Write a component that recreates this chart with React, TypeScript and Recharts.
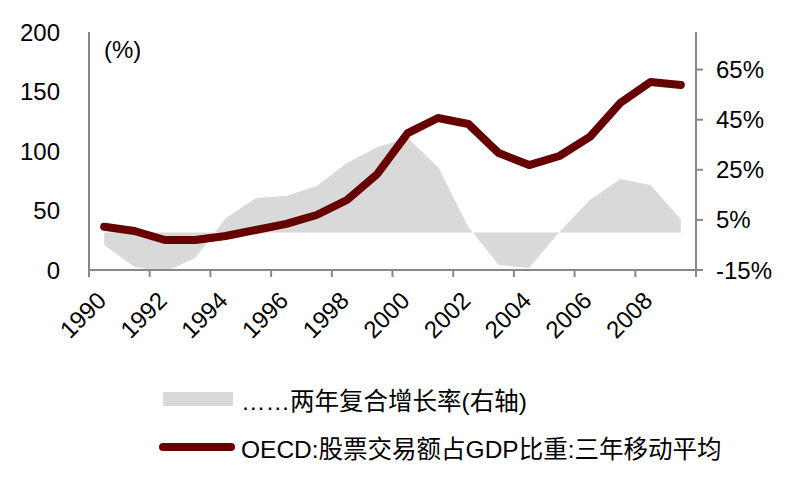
import { ComposedChart, Area, Line, XAxis, YAxis, Legend } from 'recharts';

const years = [1990, 1991, 1992, 1993, 1994, 1995, 1996, 1997, 1998, 1999, 2000, 2001, 2002, 2003, 2004, 2005, 2006, 2007, 2008, 2009];
// OECD 股票交易额占GDP比重, 三年移动平均 (左轴, %)
const turnoverRatio = [36.4, 32.8, 25.2, 25.2, 28.6, 33.6, 38.7, 46.2, 58.8, 80.7, 115, 127.7, 122.7, 98.3, 88.2, 95.8, 111.8, 140.3, 158, 155.5];
// 两年复合增长率 (右轴, %)
const growthRate = [-5.0, -13.8, -15.8, -10.2, 5.7, 13.7, 14.5, 18.5, 27.7, 34.1, 37.7, 26.1, 2.2, -13, -14.2, 0.2, 12.9, 21.3, 18.9, 5.3];

const yearLabels = [1990, 1992, 1994, 1996, 1998, 2000, 2002, 2004, 2006, 2008];
const bandEdges = [1989.5, 1991.5, 1993.5, 1995.5, 1997.5, 1999.5, 2001.5, 2003.5, 2005.5, 2007.5, 2009.5];
const leftTicks = [0, 50, 100, 150, 200];
const rightTicks = [-15, 5, 25, 45, 65];

const areaName = '……两年复合增长率(右轴)';
const lineName = 'OECD:股票交易额占GDP比重:三年移动平均';

const data = years.map((year, i) => ({ year, ratio: turnoverRatio[i], growth: growthRate[i] }));
const xTicks = [...bandEdges, ...yearLabels].sort((a, b) => a - b);

const FONT = '"Liberation Sans", Arial, "Noto Sans CJK SC", sans-serif';
const AXIS = '#888888';
const LINE = '#660000';
const AREA = '#d9d9d9';

const XTick = (props: any) => {
  const { x, y, payload } = props;
  const v = payload.value;
  if (!Number.isInteger(v)) {
    return <line x1={x} y1={y} x2={x} y2={y + 7} stroke={AXIS} strokeWidth={2} />;
  }
  const tx = x + 3.5;
  const ty = y + 32;
  return (
    <text x={tx} y={ty} transform={`rotate(-45 ${tx} ${ty})`} textAnchor="end" fontSize={24} fontFamily={FONT} fill="#000">
      {v}
    </text>
  );
};

const LegendBox = () => (
  <div style={{ fontFamily: FONT, fontSize: 24.5, color: '#000' }}>
    <div style={{ display: 'flex', alignItems: 'center', height: 30 }}>
      <span style={{ display: 'inline-block', width: 70, height: 14, background: AREA, marginLeft: 163 }} />
      <span style={{ marginLeft: 8 }}>{areaName}</span>
    </div>
    <div style={{ display: 'flex', alignItems: 'center', height: 30, marginTop: 18 }}>
      <span style={{ display: 'inline-block', width: 76, height: 8, borderRadius: 4, background: LINE, marginLeft: 159 }} />
      <span style={{ marginLeft: 6 }}>{lineName}</span>
    </div>
  </div>
);

export default function App() {
  return (
    <div style={{ position: 'absolute', left: 0, top: 0, width: 810, height: 491, background: '#fff' }}>
      <ComposedChart width={810} height={491} data={data} margin={{ top: 32, right: 0, bottom: 0, left: 0 }}>
        <XAxis
          dataKey="year"
          type="number"
          domain={[1989.5, 2009.5]}
          ticks={xTicks}
          interval={0}
          tick={<XTick />}
          tickLine={false}
          tickSize={0}
          tickMargin={0}
          height={221}
          axisLine={{ stroke: AXIS, strokeWidth: 2 }}
        />
        <YAxis
          yAxisId="left"
          orientation="left"
          width={89}
          domain={[0, 200]}
          ticks={leftTicks}
          interval={0}
          tickLine={false}
          tickSize={0}
          tickMargin={29}
          axisLine={{ stroke: AXIS, strokeWidth: 2 }}
          tick={{ fill: '#000', fontSize: 24, fontFamily: FONT }}
        />
        <YAxis
          yAxisId="right"
          orientation="right"
          width={114}
          domain={[-15, 80]}
          allowDataOverflow
          ticks={rightTicks}
          interval={0}
          tickSize={7}
          tickMargin={13}
          tickLine={{ stroke: AXIS, strokeWidth: 2 }}
          axisLine={{ stroke: AXIS, strokeWidth: 2 }}
          tickFormatter={(v: number) => `${v}%`}
          tick={{ fill: '#000', fontSize: 24, fontFamily: FONT }}
        />
        <Area
          yAxisId="right"
          dataKey="growth"
          name={areaName}
          type="linear"
          fill={AREA}
          fillOpacity={1}
          stroke="none"
          isAnimationActive={false}
        />
        <Line
          yAxisId="left"
          dataKey="ratio"
          name={lineName}
          type="linear"
          stroke={LINE}
          strokeWidth={8}
          strokeLinecap="round"
          strokeLinejoin="round"
          dot={false}
          activeDot={false}
          isAnimationActive={false}
        />
        <Legend
          layout="vertical"
          align="center"
          verticalAlign="middle"
          content={<LegendBox />}
          wrapperStyle={{ left: 0, top: 384, width: 810, height: 90 }}
        />
      </ComposedChart>
      <div style={{ position: 'absolute', left: 104, top: 36, fontFamily: FONT, fontSize: 24, color: '#000' }}>(%)</div>
    </div>
  );
}
